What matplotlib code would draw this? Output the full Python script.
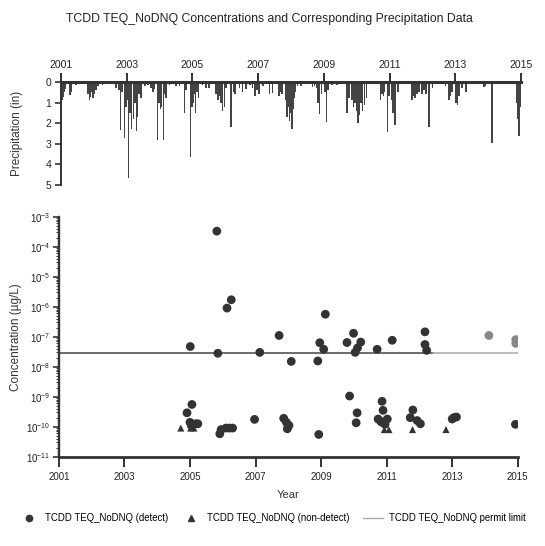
import matplotlib
matplotlib.use("Agg")
import matplotlib.pyplot as plt
from matplotlib.lines import Line2D

plt.rcParams['font.family'] = ['Liberation Sans', 'DejaVu Sans']

# precipitation events (decimal year, inches)
precip_year = [
    2001.01, 2001.04, 2001.07, 2001.10, 2001.13, 2001.27, 2001.31, 2001.46, 2001.55, 2001.65,
    2001.82, 2001.86, 2001.90, 2001.94, 2001.98, 2002.02, 2002.06, 2002.12, 2002.26, 2002.38,
    2002.50, 2002.68, 2002.77, 2002.81, 2002.86, 2002.93, 2002.97, 2003.02, 2003.06, 2003.10,
    2003.15, 2003.20, 2003.25, 2003.29, 2003.33, 2003.38, 2003.44, 2003.55, 2003.65, 2003.74,
    2003.80, 2003.84, 2003.94, 2003.98, 2004.02, 2004.06, 2004.12, 2004.16, 2004.20, 2004.30,
    2004.50, 2004.60, 2004.70, 2004.75, 2004.80, 2004.94, 2004.98, 2005.02, 2005.06, 2005.10,
    2005.14, 2005.19, 2005.30, 2005.41, 2005.51, 2005.60, 2005.72, 2005.77, 2005.82, 2005.87,
    2005.92, 2005.97, 2006.02, 2006.17, 2006.25, 2006.30, 2006.43, 2006.52, 2006.63, 2006.75,
    2006.82, 2006.90, 2006.96, 2007.03, 2007.15, 2007.34, 2007.43, 2007.55, 2007.64, 2007.70,
    2007.73, 2007.85, 2007.88, 2007.92, 2007.96, 2008.00, 2008.03, 2008.06, 2008.10, 2008.14,
    2008.19, 2008.31, 2008.45, 2008.65, 2008.72, 2008.77, 2008.82, 2008.86, 2008.92, 2009.03,
    2009.08, 2009.12, 2009.25, 2009.40, 2009.55, 2009.70, 2009.77, 2009.86, 2009.90, 2009.95,
    2010.00, 2010.04, 2010.08, 2010.13, 2010.18, 2010.24, 2010.29, 2010.45, 2010.60, 2010.73,
    2010.77, 2010.81, 2010.85, 2010.93, 2010.98, 2011.05, 2011.10, 2011.17, 2011.25, 2011.40,
    2011.55, 2011.68, 2011.72, 2011.78, 2011.84, 2011.90, 2011.99, 2012.05, 2012.11, 2012.20,
    2012.30, 2012.45, 2012.60, 2012.70, 2012.81, 2012.86, 2012.90, 2013.02, 2013.07, 2013.11,
    2013.20, 2013.33, 2013.50, 2013.65, 2013.87, 2013.92, 2014.12, 2014.30, 2014.50, 2014.70,
    2014.86, 2014.90, 2014.94, 2014.97,
]
precip_in = [
    3.6, 0.9, 0.75, 0.5, 0.35, 0.63, 0.5, 0.15, 0.1, 0.12,
    0.6, 0.87, 0.75, 0.5, 0.8, 0.6, 0.4, 0.2, 0.15, 0.12,
    0.1, 0.3, 0.4, 2.33, 0.5, 2.7, 1.2, 0.9, 4.67, 1.5,
    2.3, 1.8, 1.0, 2.4, 1.7, 0.6, 0.8, 0.2, 0.15, 0.3,
    0.5, 0.35, 2.8, 1.0, 1.3, 1.2, 2.8, 0.6, 0.8, 0.15,
    0.2, 0.2, 0.1, 1.5, 0.4, 3.65, 1.2, 1.0, 0.6, 1.5,
    0.5, 0.8, 0.15, 0.3, 0.3, 0.1, 0.6, 0.9, 0.7, 1.0,
    1.4, 1.2, 0.3, 2.2, 0.5, 0.6, 0.3, 0.5, 0.35, 0.15,
    0.3, 0.7, 0.4, 0.6, 0.2, 0.6, 0.55, 0.1, 0.7, 0.5,
    0.6, 0.9, 1.7, 1.2, 1.9, 1.5, 2.28, 1.3, 0.8, 0.5,
    0.2, 0.2, 0.1, 0.25, 0.2, 0.3, 1.0, 1.55, 0.6, 0.5,
    1.96, 0.4, 0.15, 0.15, 0.1, 1.5, 0.8, 0.9, 1.2, 1.0,
    1.4, 1.97, 1.6, 1.0, 1.4, 1.1, 0.8, 0.12, 0.1, 0.9,
    0.6, 0.7, 0.5, 2.43, 0.7, 0.9, 1.5, 2.1, 0.5, 0.12,
    0.1, 0.9, 0.7, 0.8, 0.6, 0.5, 0.6, 0.4, 0.6, 2.2,
    0.3, 0.12, 0.1, 0.2, 0.9, 0.7, 0.5, 1.0, 1.1, 0.7,
    0.3, 0.5, 0.1, 0.1, 0.25, 0.2, 2.96, 0.1, 0.1, 0.1,
    1.0, 1.8, 2.6, 1.2,
]

# detected concentrations (ug/L)
detect_year = [
    2005.01, 2005.82, 2005.85, 2006.13, 2006.26, 2007.13, 2007.72, 2008.09, 2008.90, 2008.96,
    2009.08, 2009.13, 2009.79, 2009.99, 2010.04, 2010.11, 2010.21, 2010.71, 2011.17, 2012.17,
    2012.17, 2012.22,
    2004.91, 2005.06, 2005.00, 2005.04, 2005.10, 2005.18, 2005.24, 2005.91, 2005.95, 2006.10,
    2006.20, 2006.30, 2006.97, 2007.86, 2007.94, 2008.02, 2007.97, 2008.93, 2009.87, 2010.10,
    2010.07, 2010.86, 2010.89, 2010.74, 2010.82, 2011.02, 2010.86, 2010.95, 2011.80, 2011.72,
    2011.93, 2012.03, 2013.05, 2013.13, 2013.00, 2014.93,
]
detect_conc = [
    4.7e-8, 3.3e-4, 2.8e-8, 9e-7, 1.7e-6, 3e-8, 1.1e-7, 1.5e-8, 1.55e-8, 6.3e-8,
    3.8e-8, 5.6e-7, 6.4e-8, 1.3e-7, 3e-8, 4.2e-8, 6.6e-8, 3.8e-8, 7.6e-8, 1.45e-7,
    5.5e-8, 3.5e-8,
    2.9e-10, 5.5e-10, 1.4e-10, 1.1e-10, 1.2e-10, 1.25e-10, 1.25e-10, 5.8e-11, 8e-11, 9e-11,
    9e-11, 9e-11, 1.75e-10, 1.9e-10, 1.4e-10, 1.1e-10, 8.5e-11, 5.5e-11, 1.05e-9, 2.9e-10,
    1.35e-10, 7e-10, 3.5e-10, 1.8e-10, 1.5e-10, 1.8e-10, 1.4e-10, 1.2e-10, 3.6e-10, 2e-10,
    1.6e-10, 1.25e-10, 2e-10, 2.1e-10, 1.8e-10, 1.2e-10,
]
# later detects drawn lighter
late_year = [2014.12, 2014.94, 2014.94]
late_conc = [1.1e-7, 8e-8, 6e-8]

nondetect_year = [2004.72, 2005.02, 2005.12, 2005.93, 2006.15, 2006.28, 2010.93, 2011.07, 2011.79, 2012.81]
nondetect_conc = [9e-11, 9e-11, 9e-11, 8e-11, 9e-11, 9e-11, 8e-11, 8e-11, 8e-11, 8e-11]

permit_limit = 2.8e-8
permit_split = 2012.4

year_ticks = [2001, 2003, 2005, 2007, 2009, 2011, 2013, 2015]

fig = plt.figure(figsize=(5.45, 5.46), dpi=100)
fig.text(0.495, 0.965, "TCDD TEQ_NoDNQ Concentrations and Corresponding Precipitation Data",
         ha='center', va='center', fontsize=8.8, color='#222')

# precipitation panel
ax1 = fig.add_axes([0.112, 0.661, 0.844, 0.189])
ax1.bar(precip_year, precip_in, width=0.045, color='#444', align='center')
ax1.set_xlim(2001, 2015)
ax1.set_ylim(5, 0)
ax1.xaxis.tick_top()
ax1.set_xticks(year_ticks)
ax1.set_yticks([0, 1, 2, 3, 4, 5])
ax1.spines['right'].set_visible(False)
ax1.spines['bottom'].set_visible(False)
ax1.spines['top'].set_linewidth(2.2)
ax1.spines['left'].set_linewidth(1.4)
for s in ax1.spines.values():
    s.set_color('#333')
ax1.tick_params(axis='x', direction='out', length=6.5, width=1.3, labelsize=7.5, pad=2, colors='#222')
ax1.tick_params(axis='y', direction='out', length=4, width=1.1, labelsize=7.5, pad=3, colors='#222')
ax1.set_ylabel("Precipitation (in)", fontsize=8.5, color='#333', labelpad=16)

# concentration panel
ax2 = fig.add_axes([0.108, 0.1636, 0.842, 0.4395])
ax2.set_yscale('log')
ax2.set_xlim(2001, 2015)
ax2.set_ylim(1e-11, 1e-3)
ax2.plot([2001, permit_split], [permit_limit, permit_limit], color='#444', lw=1.1, zorder=1)
ax2.plot([permit_split, 2015], [permit_limit, permit_limit], color='#aaa', lw=1.1, zorder=1)
ax2.scatter(detect_year, detect_conc, s=40, color='#333', edgecolors='none', zorder=3)
ax2.scatter(late_year, late_conc, s=40, color='#888', edgecolors='none', zorder=3)
ax2.scatter(nondetect_year, nondetect_conc, s=26, marker='^', color='#333', edgecolors='none', zorder=3)
ax2.set_xticks(year_ticks)
ax2.spines['right'].set_visible(False)
ax2.spines['top'].set_visible(False)
ax2.spines['left'].set_linewidth(1.7)
ax2.spines['bottom'].set_linewidth(2.0)
for s in ax2.spines.values():
    s.set_color('#333')
ax2.tick_params(axis='x', which='major', direction='out', length=7, width=1.3, labelsize=7, pad=4, colors='#222')
ax2.tick_params(axis='y', which='major', direction='out', length=4, width=1.1, labelsize=7, pad=2, colors='#222')
ax2.tick_params(axis='y', which='minor', direction='out', length=2.5, width=0.7, colors='#333')
ax2.set_ylabel("Concentration (\u00b5g/L)", fontsize=8.5, color='#333', labelpad=3)
ax2.set_xlabel("Year", fontsize=8, color='#333', labelpad=6)

handles = [
    Line2D([], [], ls='none', marker='o', markersize=4.5, color='#333'),
    Line2D([], [], ls='none', marker='^', markersize=4, color='#333'),
    Line2D([], [], color='#aaa', lw=1.0),
]
labels = ["TCDD TEQ_NoDNQ (detect)", "TCDD TEQ_NoDNQ (non-detect)", "TCDD TEQ_NoDNQ permit limit"]
fig.legend(handles, labels, ncol=3, loc='center left', bbox_to_anchor=(0.035, 0.051),
           frameon=False, fontsize=6.9, handlelength=2.0, handletextpad=0.7, columnspacing=1.4,
           borderaxespad=0, borderpad=0)

fig.savefig("out.png", dpi=100)
